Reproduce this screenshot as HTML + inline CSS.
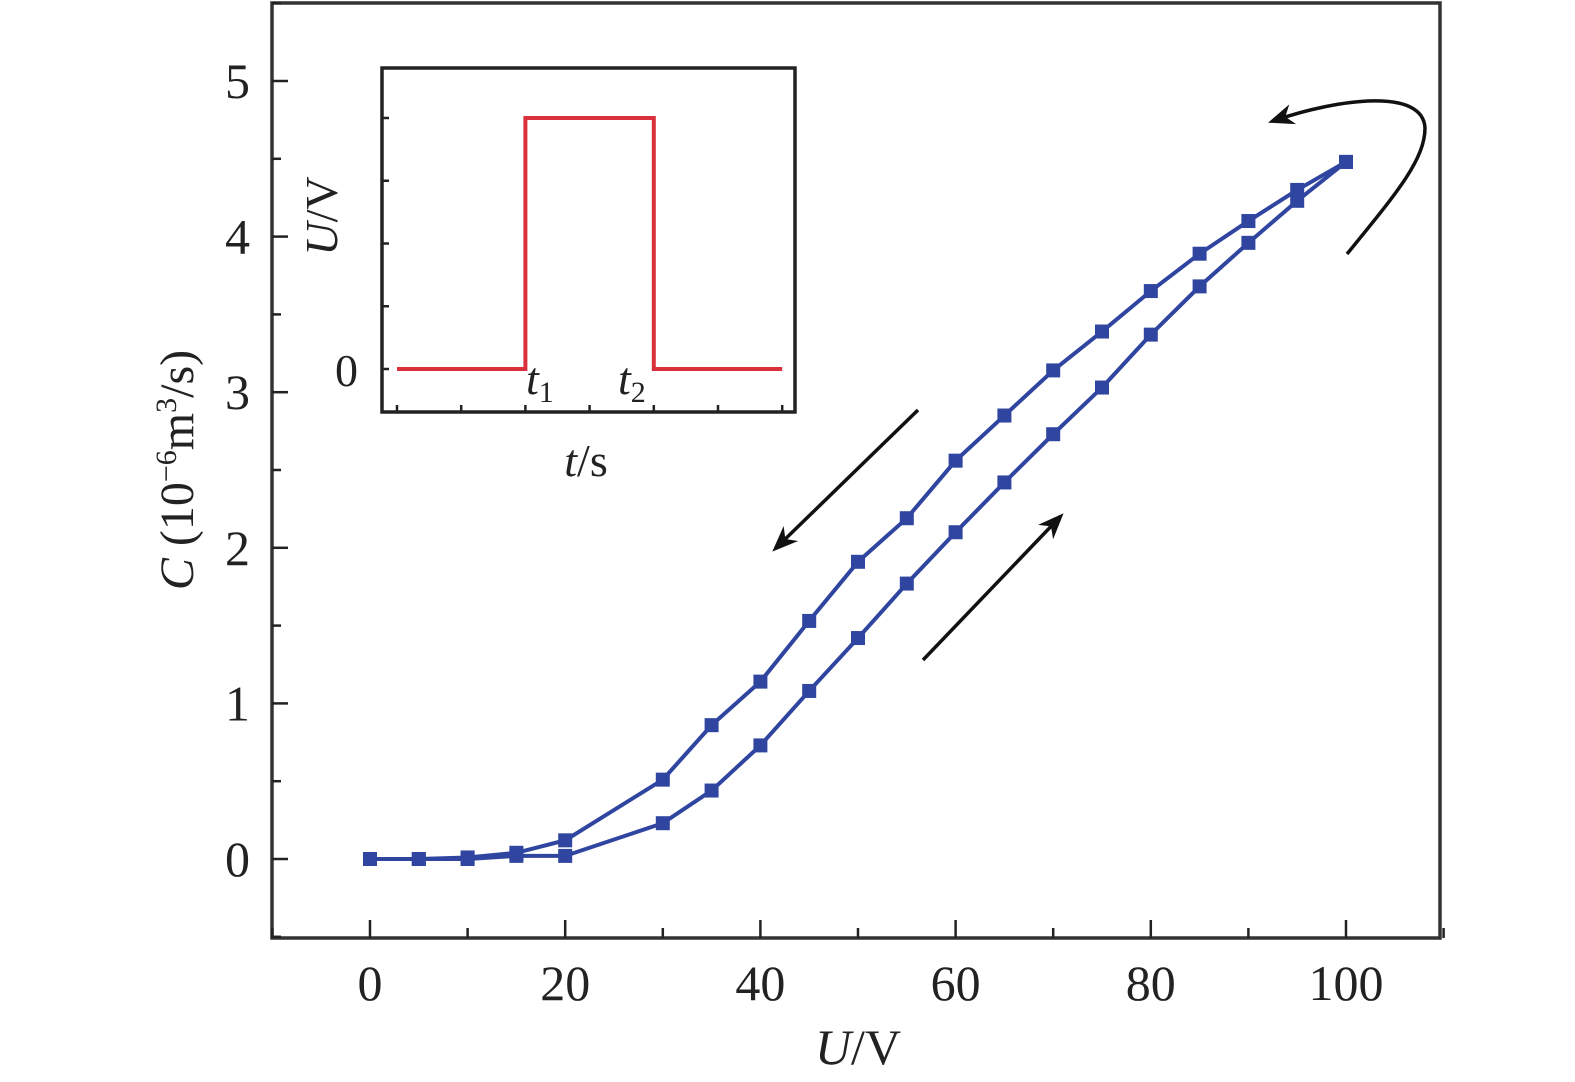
<!DOCTYPE html>
<html><head><meta charset="utf-8"><style>
html,body{margin:0;padding:0;background:#fff}
svg{display:block}
text{font-family:"Liberation Serif",serif;fill:#222}
</style></head><body>
<svg width="1575" height="1082" viewBox="0 0 1575 1082">
<defs>
<marker id="ah" viewBox="0 0 10 10" refX="8" refY="5" markerWidth="8" markerHeight="8" markerUnits="userSpaceOnUse" orient="auto"><path d="M0,1 L10,5 L0,9 L3,5 Z" fill="#111"/></marker>
<marker id="ah2" viewBox="0 0 10 10" refX="8" refY="5" markerWidth="26" markerHeight="26" markerUnits="userSpaceOnUse" orient="auto"><path d="M0,1 L10,5 L0,9 L3,5 Z" fill="#111"/></marker>
</defs>
<g id="main"></g>
<g id="inset"></g>
<path d="M1347,254 C1395,195 1425,160 1425,128 C1423,88 1340,98 1273,121" fill="none" stroke="#111" stroke-width="3.5" marker-end="url(#ah2)"/>
<line x1="918" y1="410" x2="776" y2="548" stroke="#111" stroke-width="3.5" marker-end="url(#ah2)"/>
<line x1="923" y1="660" x2="1060" y2="517" stroke="#111" stroke-width="3.5" marker-end="url(#ah2)"/>
</svg>
<script>
const xVals=[0,5,10,15,20,30,35,40,45,50,55,60,65,70,75,80,85,90,95,100];
const upperC=[0,0,0.01,0.04,0.12,0.51,0.86,1.14,1.53,1.91,2.19,2.56,2.85,3.14,3.39,3.65,3.89,4.10,4.30,4.48];
const lowerC=[0,0,0,0.02,0.02,0.23,0.44,0.73,1.08,1.42,1.77,2.10,2.42,2.73,3.03,3.37,3.68,3.96,4.23,4.48];
const xTicks=[0,20,40,60,80,100];
const yTicks=[0,1,2,3,4,5];
const pulseT=[0,2,2,4,4,6];
const pulseU=[0,0,1,1,0,0];
const NS='http://www.w3.org/2000/svg';
function mk(p,t,a,txt){const e=document.createElementNS(NS,t);for(const k in a)e.setAttribute(k,a[k]);if(txt!==undefined)e.textContent=txt;p.appendChild(e);return e;}
const X=v=>370+v*9.76, Y=v=>859-v*155.6;
const g=document.getElementById('main');
let e;
e=mk(g,'rect',{x:272,y:3,width:1168,height:935,fill:'none',stroke:'#333','stroke-width':3.5});


for(let v=-10;v<=110;v+=10){const big=v%20===0;e=mk(g,'line',{x1:X(v),x2:X(v),y1:938,y2:938-(big?18:10),stroke:'#222','stroke-width':2.5});

}
xTicks.forEach(v=>{e=mk(g,'text',{x:X(v),y:1000,'font-size':50,'text-anchor':'middle'},String(v));

});
for(let v=-0.5;v<=5.5;v+=0.5){const big=Math.abs(v%1)<1e-9;e=mk(g,'line',{x1:272,x2:272+(big?16:9),y1:Y(v),y2:Y(v),stroke:'#222','stroke-width':2.5});

}
yTicks.forEach(v=>{e=mk(g,'text',{x:250,y:Y(v)+17,'font-size':50,'text-anchor':'end'},String(v));

});
e=mk(g,'text',{x:858,y:1064,'font-size':50,'text-anchor':'middle'});
e.innerHTML='<tspan font-style="italic">U</tspan>/V';


e=mk(g,'text',{x:0,y:0,'font-size':48,'text-anchor':'middle',transform:'translate(193,470) rotate(-90)'});
e.innerHTML='<tspan font-style="italic">C</tspan> (10<tspan dy="-17" font-size="30">−6</tspan><tspan dy="17">m</tspan><tspan dy="-17" font-size="30">3</tspan><tspan dy="17">/s)</tspan>';


[[upperC,'decreasing-series'],[lowerC,'increasing-series']].forEach(([s,n])=>{
 e=mk(g,'polyline',{points:xVals.map((x,i)=>X(x)+','+Y(s[i])).join(' '),fill:'none',stroke:'#2f45a0','stroke-width':4});
 
 
 xVals.forEach((x,i)=>{e=mk(g,'rect',{x:X(x)-7,y:Y(s[i])-7,width:14,height:14,fill:'#2f45a0'});
 
 });
});
const ig=document.getElementById('inset');
const IX=t=>397+t*64.2, IY=u=>369-u*251;
e=mk(ig,'rect',{x:382,y:68,width:413,height:344,fill:'#fff',stroke:'#222','stroke-width':3.5});


for(let t=0;t<=6;t++){e=mk(ig,'line',{x1:IX(t),x2:IX(t),y1:412,y2:405,stroke:'#222','stroke-width':2.5});

}
for(let u=0;u<=1;u+=0.25){e=mk(ig,'line',{x1:382,x2:389,y1:IY(u),y2:IY(u),stroke:'#222','stroke-width':2.5});

}
e=mk(ig,'polyline',{points:pulseT.map((t,i)=>IX(t)+','+IY(pulseU[i])).join(' '),fill:'none',stroke:'#d9303c','stroke-width':4});


e=mk(ig,'text',{x:358,y:386,'font-size':46,'text-anchor':'end'},'0');


e=mk(ig,'text',{x:526,y:394,'font-size':46,'font-style':'italic'});e.innerHTML='t<tspan dy="8" font-size="30" font-style="normal">1</tspan>';


e=mk(ig,'text',{x:618,y:394,'font-size':46,'font-style':'italic'});e.innerHTML='t<tspan dy="8" font-size="30" font-style="normal">2</tspan>';


e=mk(ig,'text',{x:586,y:476,'font-size':46,'text-anchor':'middle'});e.innerHTML='<tspan font-style="italic">t</tspan>/s';


e=mk(ig,'text',{x:0,y:0,'font-size':46,'text-anchor':'middle',transform:'translate(337,216) rotate(-90)'});e.innerHTML='<tspan font-style="italic">U</tspan>/V';


</script>
</body></html>
